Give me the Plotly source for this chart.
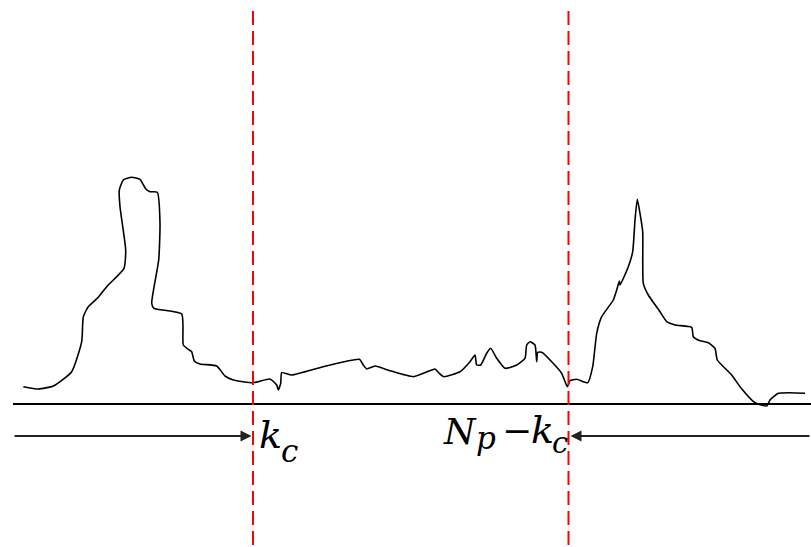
import plotly.graph_objects as go

# curve (x to the right, y downward, in canvas units)
curve_x = [23.3, 38.3, 53.3, 71.7, 81.7, 83.3, 88.3, 98.3, 106.7, 124, 125.7, 120, 119.3, 123.3,
           131.7, 140, 146, 150, 157.3, 160, 158.7, 151.7, 154, 181.7, 183.3, 188.3, 191.7, 194.3,
           200, 216.7, 225, 233.3, 253.3, 270, 276.7, 278.3, 280.7, 281.7, 291.7, 323.3, 359.3,
           363.3, 366.7, 375, 390, 413.3, 431.7, 435, 439.3, 444, 460, 470, 475, 476.7, 480.7,
           486.7, 490.7, 496.7, 505, 516.7, 525, 526.7, 530, 535, 536.7, 537.7, 541.7, 551.7,
           561.7, 567.3, 570, 576.7, 587.7, 592.7, 596.7, 601.7, 613.3, 616.7, 619.3, 620, 628.3,
           632.7, 635, 637.3, 640, 642.7, 643.3, 648.3, 659.3, 666.7, 675, 691.7, 693.3, 700,
           708.3, 715, 717.3, 731.7, 740, 755, 766.7, 770, 778.3, 790, 805]
curve_y = [386.7, 389, 386, 371.7, 341.7, 316.7, 306.7, 297.3, 286.7, 268.3, 250, 206.7, 190, 180,
           177.3, 179.3, 189.3, 191.7, 192.3, 223.3, 260, 303.3, 308.3, 314, 345, 349.3, 351.7, 361,
           364, 366, 376, 380, 382.7, 379, 385, 390, 383.3, 372.7, 375, 366.7, 359.3,
           365, 369, 366, 370.7, 376.7, 370, 369, 373.3, 376.7, 371.7, 361.7, 355, 365, 365,
           353.3, 348.3, 358.3, 368.3, 365, 358.3, 345, 341.7, 345, 361.7, 352.3, 352.3, 361.7,
           373.3, 386.7, 380.7, 379.3, 382.7, 366.7, 333.3, 316.7, 300, 290, 281, 285, 266.7,
           251.7, 220, 199.3, 213.3, 231.7, 283.3, 295, 310.7, 321.7, 325, 327.3, 336.7, 340.7,
           342.7, 348.3, 360, 375, 386.7, 402.7, 406, 400, 393.3, 392.7, 393.3]

baseline_x = [13, 811]
baseline_y = 404

cut_x = [253, 568.5]        # k_c and N_p - k_c
arrow_y = 436
arrow_from = [13, 811]
arrow_to = [251.5, 570.5]

W, H = 811, 547

fig = go.Figure()

fig.add_trace(go.Scatter(
    x=curve_x, y=curve_y, mode="lines",
    line=dict(color="black", width=1.6, shape="spline", smoothing=0.5),
    hoverinfo="skip"
))
fig.add_trace(go.Scatter(
    x=baseline_x, y=[baseline_y, baseline_y], mode="lines",
    line=dict(color="black", width=2), hoverinfo="skip"
))

for cx in cut_x:
    fig.add_shape(type="line", x0=cx, x1=cx, y0=11, y1=H,
                  xref="x", yref="y",
                  line=dict(color="#ff0000", width=2, dash="14px,6px"))

for a0, a1 in zip(arrow_from, arrow_to):
    fig.add_annotation(x=a1, y=arrow_y, ax=a0, ay=arrow_y,
                       xref="x", yref="y", axref="x", ayref="y",
                       text="", showarrow=True, arrowhead=2, arrowsize=1.1,
                       arrowwidth=2, arrowcolor="#222222", standoff=0)

serif = "DejaVu Serif"
# k_c  and  N_p - k_c, one piece at a time so the subscripts sit right
labels = [
    ("k", 257, 435, 38),
    ("c", 279, 450.5, 31),
    ("N", 441, 431, 36),
    ("p", 474, 437.5, 31),
    ("\u2212", 500, 430.5, 36),
    ("k", 529, 430, 38),
    ("c", 550, 443, 29),
]
for txt, lx, ly, sz in labels:
    fig.add_annotation(x=lx, y=ly, xref="x", yref="y", text=txt,
                       showarrow=False, xanchor="left", yanchor="middle",
                       font=dict(family=serif, size=sz, color="black", style="italic"))

fig.update_layout(
    width=W, height=H,
    margin=dict(l=0, r=0, t=0, b=0),
    paper_bgcolor="white", plot_bgcolor="white",
    showlegend=False,
    xaxis=dict(range=[0, W], visible=False, fixedrange=True),
    yaxis=dict(range=[H, 0], visible=False, fixedrange=True),
)

fig.write_html("out.html", config={"displayModeBar": False},
               post_script="document.body.style.margin='0px';")
